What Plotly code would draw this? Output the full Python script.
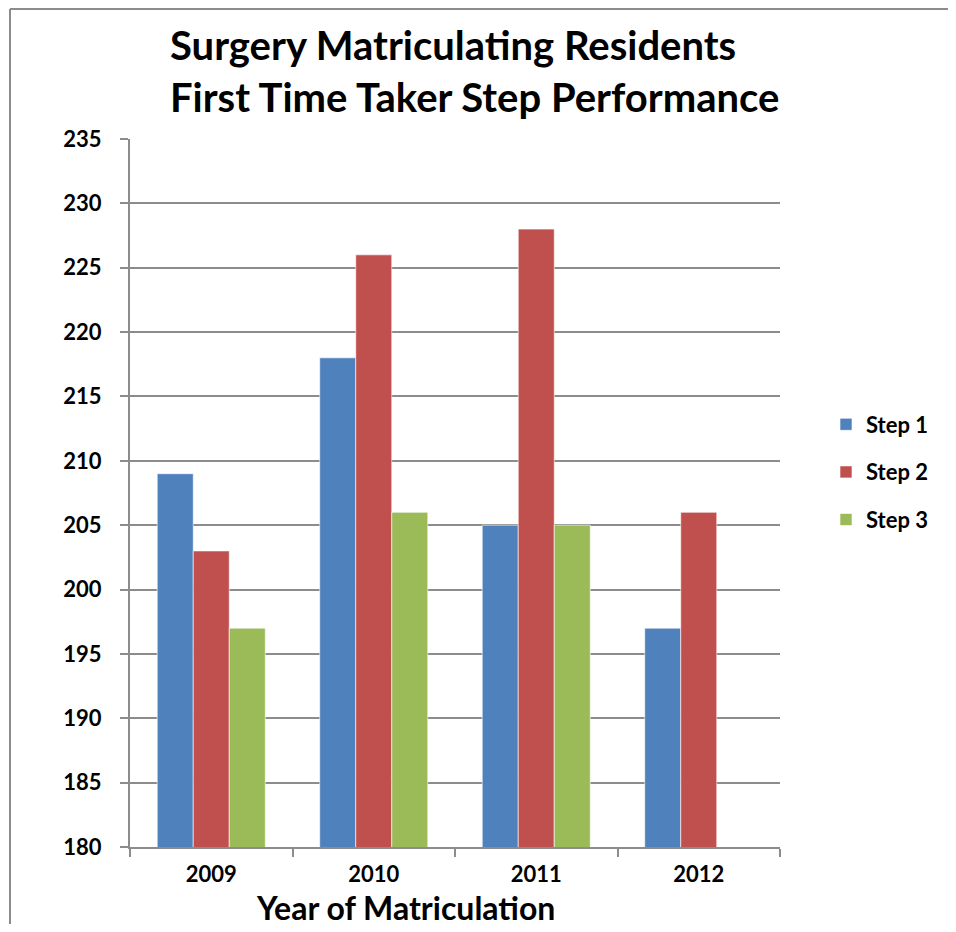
import plotly.graph_objects as go

years = ["2009", "2010", "2011", "2012"]
step1 = [209, 218, 205, 197]
step2 = [203, 226, 228, 206]
step3 = [197, 206, 205, None]
series_names = ["Step 1", "Step 2", "Step 3"]
colors = ["#4F81BD", "#C0504D", "#9BBB59"]

FONT = "Lato"
fig = go.Figure()
for i, (name, vals, c) in enumerate(zip(series_names, [step1, step2, step3], colors)):
    fig.add_trace(go.Bar(x=years, y=vals, name=name, legendgroup=f"g{i}",
                         marker=dict(color=c, line=dict(color="rgba(255,255,255,0.6)", width=1))))

# page body has an 8px margin: figure origin sits at (8, 8) in the window
W, H = 940, 916
fig.update_layout(
    width=W, height=H,
    margin=dict(l=122, r=W - 772, t=131, b=H - 839),
    paper_bgcolor="white", plot_bgcolor="white",
    barmode="group", bargap=0.335, bargroupgap=0,
    showlegend=True,
    legend=dict(x=(826 - 130) / 650, y=1 - (472 - 139) / 708, xanchor="left", yanchor="middle",
                font=dict(family=FONT, size=22, color="black", weight="bold"),
                traceorder="grouped", tracegroupgap=16, itemwidth=30,
                bgcolor="rgba(0,0,0,0)", borderwidth=0),
    font=dict(family=FONT, color="black"),
)
fig.update_yaxes(range=[180, 235], dtick=5, showgrid=True, gridcolor="#8c8c8c", gridwidth=2,
                 showline=True, linecolor="#8c8c8c", linewidth=2,
                 ticks="outside", ticklen=8, tickcolor="#8c8c8c", tickwidth=2,
                 ticklabelstandoff=14,
                 tickfont=dict(family=FONT, size=22, color="black", weight="bold"),
                 zeroline=False)
fig.update_xaxes(showline=True, linecolor="#8c8c8c", linewidth=2,
                 ticks="outside", tickson="boundaries", ticklen=8, tickcolor="#8c8c8c", tickwidth=2,
                 ticklabelstandoff=7,
                 tickfont=dict(family=FONT, size=22, color="black", weight="bold"))

def px(xabs):
    return (xabs - 130) / 650

def py(yabs):
    return 1 - (yabs - 139) / 708

fig.add_annotation(text="Surgery Matriculating Residents", xref="paper", yref="paper",
                   x=px(168), y=py(45), xanchor="left", yanchor="middle",
                   showarrow=False, font=dict(family=FONT, size=40, color="black", weight="bold"))
fig.add_annotation(text="First Time Taker Step Performance", xref="paper", yref="paper",
                   x=px(168), y=py(97), xanchor="left", yanchor="middle",
                   showarrow=False, font=dict(family=FONT, size=40, color="black", weight="bold"))
fig.add_annotation(text="Year of Matriculation", xref="paper", yref="paper",
                   x=px(405), y=py(907), xanchor="center", yanchor="middle",
                   showarrow=False, font=dict(family=FONT, size=32, color="black", weight="bold"))

# outer frame (left and top edges)
fig.add_shape(type="line", xref="paper", yref="paper",
              x0=px(10), x1=px(10), y0=py(9), y1=py(960),
              line=dict(color="#8c8c8c", width=2))
fig.add_shape(type="line", xref="paper", yref="paper",
              x0=px(10), x1=px(970), y0=py(9), y1=py(9),
              line=dict(color="#8c8c8c", width=2))

fig.write_html("out.html")
